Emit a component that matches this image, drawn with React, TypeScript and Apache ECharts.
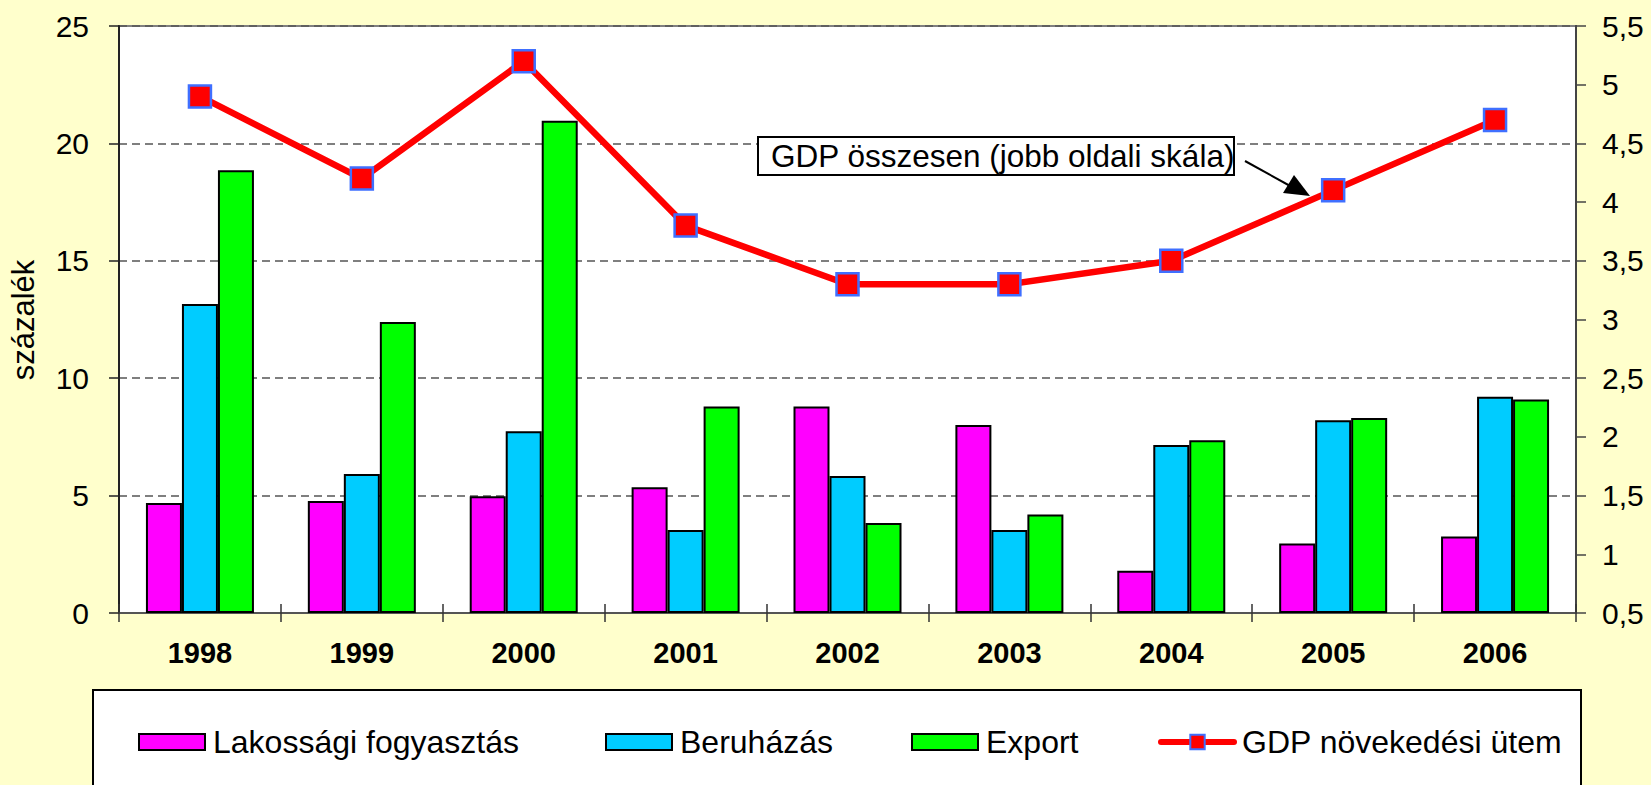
import React, { useEffect, useRef } from "react";
import * as echarts from "echarts";

const categories = ["1998", "1999", "2000", "2001", "2002", "2003", "2004", "2005", "2006"];
const lakossagi = [4.68, 4.77, 4.97, 5.36, 8.79, 8.01, 1.8, 2.96, 3.26];
const beruhazas = [13.16, 5.92, 7.74, 3.53, 5.83, 3.53, 7.16, 8.21, 9.21];
const exportVals = [18.86, 12.39, 20.96, 8.79, 3.83, 4.2, 7.36, 8.31, 9.09];
const gdp = [4.9, 4.2, 5.2, 3.8, 3.3, 3.3, 3.5, 4.1, 4.7];

const seriesNames = ["Lakossági fogyasztás", "Beruházás", "Export", "GDP növekedési ütem"];
const yAxisTitle = "százalék";
const annotationText = "GDP összesen (jobb oldali skála)";

const FONT = "'Liberation Sans', Arial, sans-serif";

export default function App() {
  const ref = useRef<HTMLDivElement>(null);
  useEffect(() => {
    document.body.style.margin = "0";
    const chart = echarts.init(ref.current!, null, { renderer: "svg" });
    const barStyle = (color: string) => ({ color, borderColor: "#000", borderWidth: 2 });
    const legendCommon = {
      top: 721,
      itemWidth: 66,
      itemHeight: 16,
      icon: "rect",
      textStyle: { fontSize: 32, color: "#000", fontFamily: FONT, padding: [0, 0, 0, 3] },
    };
    chart.setOption({
      animation: false,
      backgroundColor: "#FFFFCC",
      textStyle: { fontFamily: FONT },
      grid: {
        left: 119,
        right: 75,
        top: 26,
        bottom: 172,
        show: true,
        backgroundColor: "#fff",
        borderColor: "#808080",
        borderWidth: 2,
        outerBoundsMode: "none",
        containLabel: false,
      },
      legend: [
        { ...legendCommon, left: 133, data: [seriesNames[0]] },
        { ...legendCommon, left: 600, data: [seriesNames[1]] },
        { ...legendCommon, left: 906, data: [seriesNames[2]] },
        {
          ...legendCommon,
          left: 1153,
          icon: undefined,
          itemWidth: 73,
          itemHeight: 18,
          lineStyle: { width: 6, color: "#FF0000", cap: "round" },
          data: [seriesNames[3]],
        },
      ],
      xAxis: [
        {
          type: "category",
          data: categories,
          position: "bottom",
          axisLine: { lineStyle: { color: "#555", width: 2 } },
          axisTick: { show: true, inside: false, length: 9, lineStyle: { color: "#333", width: 1.5 } },
          axisLabel: { fontSize: 29, fontWeight: "bold", color: "#000", margin: 25, fontFamily: FONT },
        },
        {
          type: "category",
          data: categories,
          position: "bottom",
          axisLine: { show: false },
          axisTick: { show: true, inside: true, length: 9, lineStyle: { color: "#333", width: 1.5 } },
          axisLabel: { show: false },
        },
      ],
      yAxis: [
        {
          type: "value",
          min: 0,
          max: 25,
          interval: 5,
          position: "left",
          axisLine: { show: true, lineStyle: { color: "#222", width: 2 } },
          axisTick: { show: true, length: 10, lineStyle: { color: "#222", width: 1.5 } },
          axisLabel: { fontSize: 30, color: "#000", margin: 30, fontFamily: FONT },
          splitLine: { show: true, lineStyle: { color: "#555", width: 1.5, type: [8, 5] } },
        },
        {
          type: "value",
          min: 0.5,
          max: 5.5,
          interval: 0.5,
          position: "right",
          axisLine: { show: true, lineStyle: { color: "#444", width: 2 } },
          axisTick: { show: true, length: 10, lineStyle: { color: "#444", width: 1.5 } },
          axisLabel: {
            fontSize: 30,
            color: "#000",
            margin: 26,
            fontFamily: FONT,
            formatter: (v: number) => String(v).replace(".", ","),
          },
          splitLine: { show: false },
        },
      ],
      series: [
        { name: seriesNames[0], type: "bar", data: lakossagi, barWidth: 36, barGap: "0%", itemStyle: barStyle("#FF00FF") },
        { name: seriesNames[1], type: "bar", data: beruhazas, barWidth: 36, barGap: "0%", itemStyle: barStyle("#00CCFF") },
        { name: seriesNames[2], type: "bar", data: exportVals, barWidth: 36, barGap: "0%", itemStyle: barStyle("#00FF00") },
        {
          name: seriesNames[3],
          type: "line",
          yAxisIndex: 1,
          data: gdp,
          symbol: "rect",
          symbolSize: 22,
          lineStyle: { color: "#FF0000", width: 6.5 },
          itemStyle: { color: "#FF0000", borderColor: "#3F6FFF", borderWidth: 2.5 },
          z: 5,
        },
      ],
      graphic: [
        {
          type: "text",
          x: 23,
          y: 320,
          rotation: Math.PI / 2,
          style: {
            text: yAxisTitle,
            font: `31px ${FONT}`,
            fill: "#000",
            align: "center",
            verticalAlign: "middle",
          },
        },
        {
          type: "rect",
          shape: { x: 93, y: 690, width: 1488, height: 130 },
          style: { fill: "#fff", stroke: "#000", lineWidth: 2 },
          z: -1,
          silent: true,
        },
        {
          type: "rect",
          shape: { x: 758, y: 137, width: 476, height: 38 },
          style: { fill: "#fff", stroke: "#000", lineWidth: 2 },
          z: 10,
        },
        {
          type: "text",
          x: 771,
          y: 156,
          style: { text: annotationText, font: `31.5px ${FONT}`, fill: "#000", verticalAlign: "middle" },
          z: 11,
        },
        {
          type: "line",
          shape: { x1: 1245, y1: 161, x2: 1292, y2: 187 },
          style: { stroke: "#000", lineWidth: 2 },
          z: 10,
        },
        {
          type: "polygon",
          shape: { points: [[1310, 196], [1283, 193], [1294, 175]] },
          style: { fill: "#000" },
          z: 10,
        },
      ],
    });
    return () => chart.dispose();
  }, []);
  return <div ref={ref} style={{ width: 1651, height: 785 }} />;
}
